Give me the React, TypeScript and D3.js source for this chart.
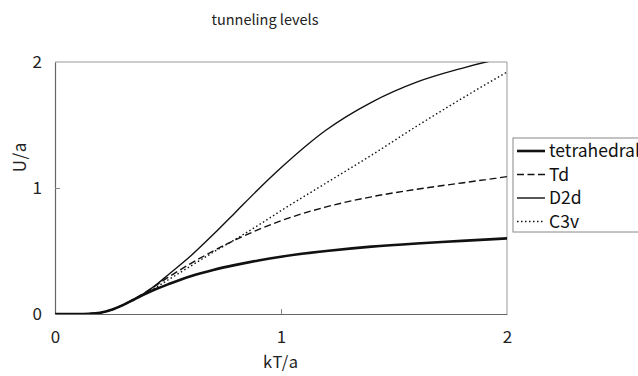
import { useEffect, useRef } from 'react';
import * as d3 from 'd3';

// kT/a sample points
const kT = [0, 0.1, 0.15, 0.2, 0.25, 0.3, 0.35, 0.4, 0.45, 0.5, 0.6, 0.7, 0.8, 0.9, 1.0, 1.2, 1.4, 1.6, 1.8, 2.0];

// U/a for each symmetry
const tetrahedral = [0, 0, 0.002, 0.01, 0.033, 0.07, 0.115, 0.16, 0.2, 0.235, 0.3, 0.35, 0.39, 0.425, 0.455, 0.5, 0.535, 0.56, 0.58, 0.6];
const td = [0, 0, 0.002, 0.01, 0.033, 0.07, 0.12, 0.172, 0.23, 0.29, 0.4, 0.5, 0.59, 0.67, 0.74, 0.85, 0.93, 0.99, 1.04, 1.09];
const d2d = [0, 0, 0.002, 0.01, 0.033, 0.07, 0.117, 0.17, 0.235, 0.31, 0.46, 0.63, 0.81, 0.99, 1.16, 1.46, 1.68, 1.84, 1.95, 2.04];
const c3v = [0, 0, 0.002, 0.01, 0.033, 0.07, 0.117, 0.165, 0.215, 0.27, 0.38, 0.49, 0.595, 0.705, 0.82, 1.04, 1.26, 1.49, 1.71, 1.92];

const xTicks = [0, 1, 2];
const yTicks = [0, 1, 2];

const series = [
  { label: 'tetrahedral', values: tetrahedral, width: 2.6, dash: null as string | null },
  { label: 'Td', values: td, width: 1.4, dash: '7,3.5' },
  { label: 'D2d', values: d2d, width: 1.4, dash: null },
  { label: 'C3v', values: c3v, width: 1.4, dash: '1.5,2.5' },
];

const FONT = '"Noto Sans CJK JP", "Noto Sans", sans-serif';

export default function App() {
  const svgRef = useRef<SVGSVGElement>(null);

  useEffect(() => {
    if (!svgRef.current) return;
    const width = 638;
    const height = 376;
    const margin = { top: 62, right: 131, bottom: 62, left: 55 };
    const w = width - margin.left - margin.right;
    const h = height - margin.top - margin.bottom;

    const root = d3.select(svgRef.current);
    root.selectAll('*').remove();
    root.attr('width', width).attr('height', height);

    root
      .append('rect')
      .attr('width', width)
      .attr('height', height)
      .attr('fill', '#fff');

    // title
    root
      .append('text')
      .attr('x', 265)
      .attr('y', 25)
      .attr('text-anchor', 'middle')
      .attr('font-family', FONT)
      .attr('font-size', 14.5)
      .attr('fill', '#222')
      .text('tunneling levels');

    const g = root.append('g').attr('transform', `translate(${margin.left},${margin.top})`);

    const x = d3.scaleLinear().domain([0, 2]).range([0, w]);
    const y = d3.scaleLinear().domain([0, 2]).range([h, 0]);

    root
      .append('defs')
      .append('clipPath')
      .attr('id', 'plot-clip')
      .append('rect')
      .attr('x', 0)
      .attr('y', 0)
      .attr('width', w)
      .attr('height', h);

    // frame: top & right grey
    g.append('line').attr('x1', 0).attr('x2', w).attr('y1', 0).attr('y2', 0).attr('stroke', '#999').attr('stroke-width', 1);
    g.append('line').attr('x1', w).attr('x2', w).attr('y1', 0).attr('y2', h).attr('stroke', '#999').attr('stroke-width', 1);

    // axes
    const xAxis = g
      .append('g')
      .attr('transform', `translate(0,${h})`)
      .call(d3.axisBottom(x).tickValues(xTicks).tickSizeInner(-5).tickSizeOuter(0).tickPadding(17).tickFormat(d3.format('d')));
    const yAxis = g
      .append('g')
      .call(d3.axisLeft(y).tickValues(yTicks).tickSizeInner(-5).tickSizeOuter(0).tickPadding(13).tickFormat(d3.format('d')));

    for (const ax of [xAxis, yAxis]) {
      ax.select('.domain').attr('stroke', '#666').attr('stroke-width', 1.2);
      ax.selectAll('.tick line').attr('stroke', '#888');
      ax.selectAll('.tick text').attr('fill', '#222').attr('font-family', FONT).style('font-size', '17px');
    }
    xAxis.selectAll('.tick').filter((d) => d === 0 || d === 2).select('line').remove();
    yAxis.selectAll('.tick').filter((d) => d === 0 || d === 2).select('line').remove();

    // axis labels
    g.append('text')
      .attr('x', w / 2)
      .attr('y', h + 54)
      .attr('text-anchor', 'middle')
      .attr('font-family', FONT)
      .attr('font-size', 16.5)
      .attr('letter-spacing', 1)
      .attr('fill', '#222')
      .text('kT/a');
    g.append('text')
      .attr('transform', `translate(${-35},${157 - margin.top}) rotate(-90)`)
      .attr('text-anchor', 'middle')
      .attr('dy', '0.35em')
      .attr('font-family', FONT)
      .attr('font-size', 17)
      .attr('letter-spacing', 1)
      .attr('fill', '#222')
      .text('U/a');

    // curves
    const plot = g.append('g').attr('clip-path', 'url(#plot-clip)');
    for (const s of series) {
      const line = d3
        .line<number>()
        .x((_, i) => x(kT[i]))
        .y((d) => y(d))
        .curve(d3.curveMonotoneX);
      const p = plot
        .append('path')
        .datum(s.values)
        .attr('fill', 'none')
        .attr('stroke', '#111')
        .attr('stroke-width', s.width)
        .attr('d', line);
      if (s.dash) p.attr('stroke-dasharray', s.dash);
    }

    // legend
    const lg = root.append('g').attr('transform', 'translate(513,138)');
    lg.append('rect')
      .attr('x', 0)
      .attr('y', 0)
      .attr('width', 140)
      .attr('height', 94)
      .attr('fill', '#fff')
      .attr('stroke', '#888')
      .attr('stroke-width', 1);
    series.forEach((s, i) => {
      const cy = 13 + i * 23.5;
      const l = lg
        .append('line')
        .attr('x1', 4)
        .attr('x2', 32)
        .attr('y1', cy)
        .attr('y2', cy)
        .attr('stroke', '#111')
        .attr('stroke-width', s.width);
      if (s.dash) l.attr('stroke-dasharray', s.dash);
      lg.append('text')
        .attr('x', 36)
        .attr('y', cy)
        .attr('dy', '0.36em')
        .attr('font-family', FONT)
        .attr('font-size', 17.5)
        .attr('fill', '#111')
        .text(s.label);
    });
  }, []);

  return (
    <div style={{ position: 'fixed', left: 0, top: 0 }}>
      <svg ref={svgRef} style={{ display: 'block' }} />
    </div>
  );
}
